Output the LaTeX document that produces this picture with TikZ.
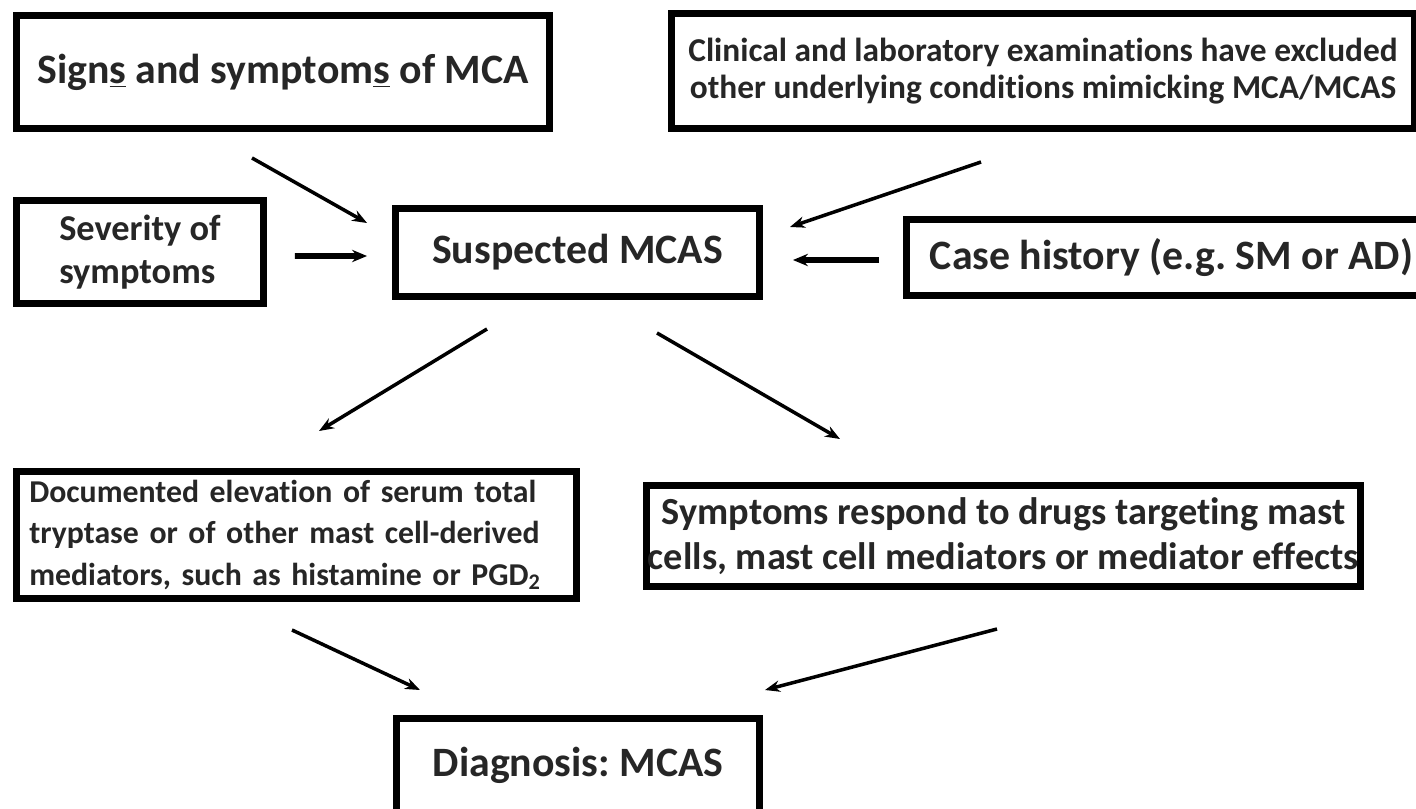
\documentclass[tikz,border=0pt]{standalone}
\usepackage{fontspec}
\setmainfont[Ligatures={NoCommon}]{Carlito}
\frenchspacing
\usepackage{tikz}
\usetikzlibrary{positioning, arrows, arrows.meta, shapes}
\tikzstyle{block} = [rectangle, line width=3.7pt, draw=black, inner sep=0pt, align=center, text=black!85]
\tikzstyle{bigtext} = [font=\bfseries\fontsize{23.8}{28}\selectfont]
\tikzstyle{arrow} = [line width=2pt,->,>={Stealth[length=8.5pt,width=6.5pt]}]
\tikzstyle{harrow} = [line width=3.4pt,->,>={Stealth[length=8.5pt,width=7pt]}]

\begin{document}
\begin{tikzpicture}[x=0.02cm, y=-0.02cm]
    \useasboundingbox (0,0) rectangle (1416,808);
    \clip (0,0) rectangle (1416,808);
    \fill[white] (0,0) rectangle (1416,808);
    \node (1) [block, bigtext, minimum width=10.67cm, minimum height=2.27cm] at (283,72)
      {Sign\underline{s} and symptom\underline{s} of MCA};
    \node (2) [block, font=\bfseries\fontsize{20.7}{24.4}\selectfont, align=left,
      minimum width=4.95cm, minimum height=2.07cm] at (140,252)
      {Severity of\\symptoms};
    \node (3) [block, bigtext, minimum width=7.29cm, minimum height=1.77cm] at (577.5,252.5)
      {Suspected MCAS};
    \node (4) [block, font=\bfseries\fontsize{19}{21}\selectfont,
      minimum width=14.87cm, minimum height=2.31cm] at (1043,71)
      {Clinical and laboratory examinations have excluded\\other underlying conditions mimicking MCA/MCAS};
    \node (5) [block, bigtext, minimum width=10.61cm, minimum height=1.53cm] at (1171.5,257.5)
      {Case history (e.g. SM or AD)};
    \node (6) [block, font=\bfseries\fontsize{18.1}{23.6}\selectfont, align=left,
      text width=10.69cm, inner xsep=0.26cm, minimum height=2.55cm] at (296.5,535)
      {Documented elevation of serum total\\tryptase or of other mast cell-derived\\mediators, such as histamine or PGD\textsubscript{2}};
    \node (7) [block, font=\bfseries\fontsize{21.8}{25.5}\selectfont,
      minimum width=14.29cm, minimum height=2.03cm] at (1003.5,536)
      {Symptoms respond to drugs targeting mast\\cells, mast cell mediators or mediator effects};
    \node (8) [block, bigtext, minimum width=7.27cm, minimum height=1.87cm] at (578,765)
      {Diagnosis: MCAS};
    \draw [arrow] ([shift={(-31,26)}]1.south) -- ([shift={(-25,-29.5)}]3.west);
    \draw [harrow] ([shift={(28,4)}]2.east) -- ([shift={(-25,3.5)}]3.west);
    \draw [arrow] ([shift={(-62,30)}]4.south) -- ([shift={(27,-25.5)}]3.east);
    \draw [harrow] ([shift={(-24,2.5)}]5.west) -- ([shift={(30,7.5)}]3.east);
    \draw [arrow] ([shift={(-90.5,29)}]3.south) -- ([shift={(22.5,-37)}]6.north);
    \draw [arrow] ([shift={(79.5,33)}]3.south) -- ([shift={(-163.5,-43)}]7.north);
    \draw [arrow] ([shift={(-4.5,28)}]6.south) -- ([shift={(-158,-25)}]8.north);
    \draw [arrow] ([shift={(-6.5,39)}]7.south) -- ([shift={(187,-25)}]8.north);
  \end{tikzpicture}
\end{document}
